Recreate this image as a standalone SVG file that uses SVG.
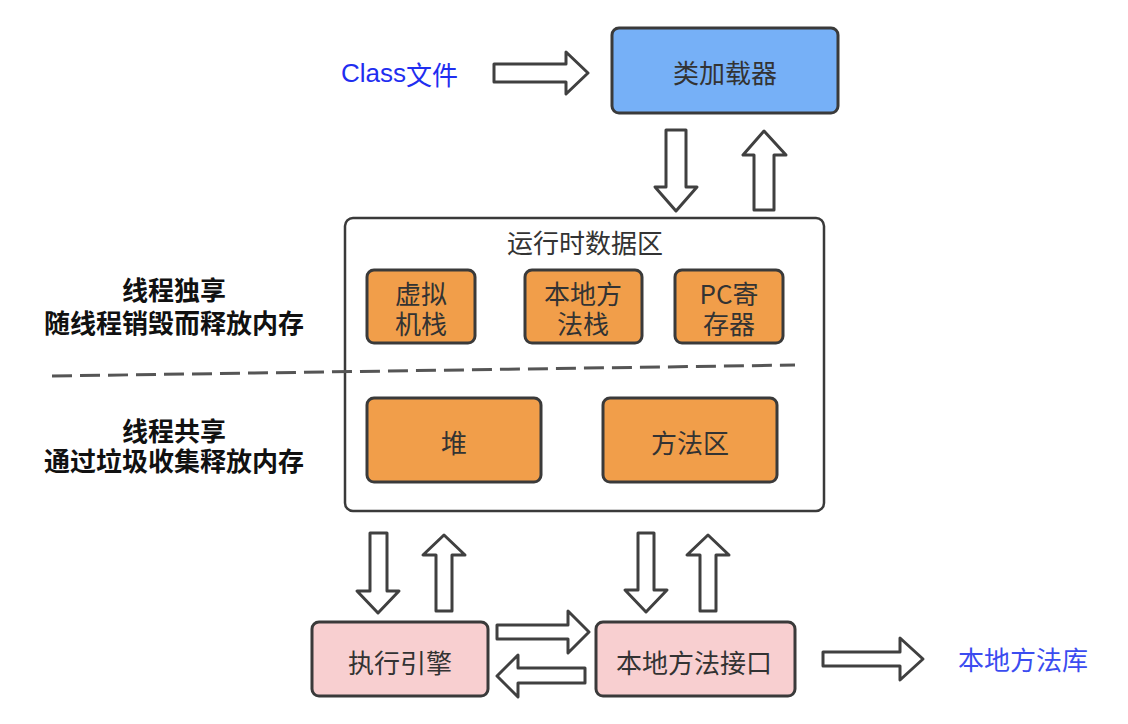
<svg xmlns="http://www.w3.org/2000/svg" width="1128" height="724" viewBox="0 0 1128 724">
<style>
.box{stroke:#3a3a3a;stroke-width:3}
.blue{fill:#76b0f7}
.org{fill:#f19e4a}
.pink{fill:#f8cfd0}
.frame{fill:#fff;stroke:#3a3a3a;stroke-width:2.5}
.arr{fill:#fff;stroke:#404040;stroke-width:3;stroke-linejoin:round}
.t{font-family:"Noto Sans CJK SC","Liberation Sans",sans-serif;font-size:26px;fill:#333;text-anchor:middle;dominant-baseline:central}
.lbl{font-family:"Noto Sans CJK SC",sans-serif;font-size:26px;font-weight:bold;fill:#111;text-anchor:middle;dominant-baseline:central}
.link{font-family:"Liberation Sans","Noto Sans CJK SC",sans-serif;font-size:26px;fill:#1f2ef0;dominant-baseline:central}
</style>
<rect width="1128" height="724" fill="#fff"/>
<g id="class-file"><text class="link" x="341" y="73">Class<tspan font-family="Noto Sans CJK SC, sans-serif">文件</tspan></text></g>
<g id="class-loader"><rect class="box blue" x="612" y="28" width="226" height="85" rx="7"/><text class="t" x="725" y="71">类加载器</text></g>
<g id="runtime-area"><rect class="frame" x="345" y="218" width="479" height="293" rx="8"/><text class="t" x="585" y="241">运行时数据区</text></g>
<g id="vm-stack"><rect class="box org" x="367" y="270" width="108" height="73" rx="7"/><text class="t" x="421" y="292">虚拟</text><text class="t" x="421" y="322">机栈</text></g>
<g id="native-stack"><rect class="box org" x="525" y="270" width="117" height="73" rx="7"/><text class="t" x="583" y="292">本地方</text><text class="t" x="583" y="322">法栈</text></g>
<g id="pc-register"><rect class="box org" x="675" y="270" width="108" height="73" rx="7"/><text class="t" x="729" y="292">PC寄</text><text class="t" x="729" y="322">存器</text></g>
<g id="heap"><rect class="box org" x="367" y="398" width="174" height="84" rx="7"/><text class="t" x="454" y="441">堆</text></g>
<g id="method-area"><rect class="box org" x="603" y="398" width="174" height="84" rx="7"/><text class="t" x="690" y="441">方法区</text></g>
<g id="exec-engine"><rect class="box pink" x="312" y="622" width="176" height="74" rx="7"/><text class="t" x="400" y="661">执行引擎</text></g>
<g id="native-interface"><rect class="box pink" x="596" y="622" width="199" height="74" rx="7"/><text class="t" x="694" y="661">本地方法接口</text></g>
<g id="native-lib"><text class="link" x="958" y="661" font-family="Noto Sans CJK SC, sans-serif" style="fill:#3b4cf0">本地方法库</text></g>
<g id="labels">
<text class="lbl" x="174" y="288">线程独享</text>
<text class="lbl" x="174" y="321">随线程销毁而释放内存</text>
<text class="lbl" x="174" y="429">线程共享</text>
<text class="lbl" x="174" y="459">通过垃圾收集释放内存</text>
</g>
<g id="divider"><line x1="52" y1="376" x2="795" y2="365" stroke="#555" stroke-width="3" stroke-dasharray="20 8"/></g>
<g id="connectors">
<polygon class="arr" points="494,64 566,64 566,52 588,73 566,94 566,82 494,82"/>
<polygon class="arr" points="666,130 686,130 686,187 697,187 676,211 655,187 666,187"/>
<polygon class="arr" points="754,210 774,210 774,155 786,155 764,131 743,155 754,155"/>
<polygon class="arr" points="370,533 387,533 387,591 399,591 378,613 357,591 370,591"/>
<polygon class="arr" points="436,611 452,611 452,555 465,555 444,535 423,555 436,555"/>
<polygon class="arr" points="638,533 654,533 654,590 667,590 646,612 625,590 638,590"/>
<polygon class="arr" points="700,611 716,611 716,555 729,555 708,535 687,555 700,555"/>
<polygon class="arr" points="497,625 568,625 568,611 589,632 568,653 568,639 497,639"/>
<polygon class="arr" points="585,668 518,668 518,655 497,676 518,697 518,683 585,683"/>
<polygon class="arr" points="823,652 900,652 900,638 923,659 900,680 900,666 823,666"/>
</g>
</svg>
